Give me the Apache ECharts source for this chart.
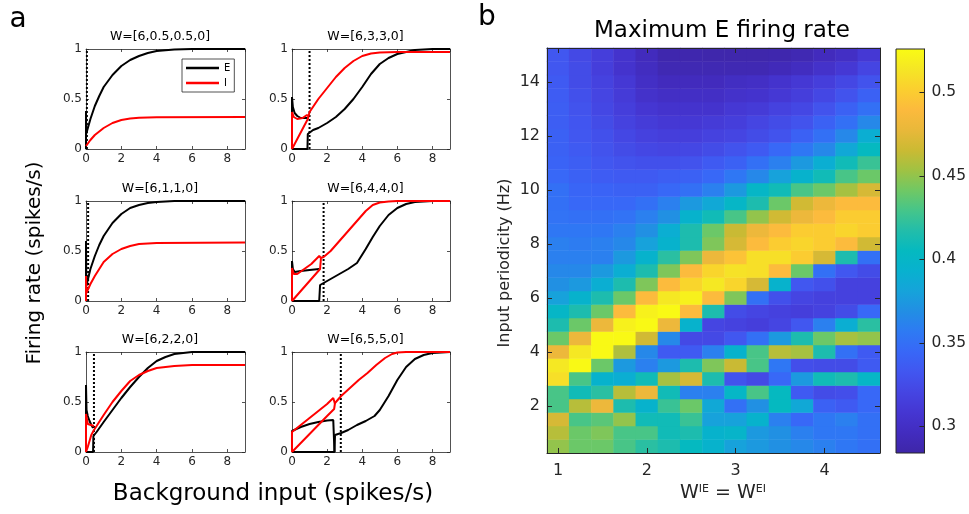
<!DOCTYPE html>
<html><head><meta charset="utf-8">
<script src="https://cdn.jsdelivr.net/npm/echarts/dist/echarts.min.js"></script>
<style>html,body{margin:0;padding:0;background:#fff}#c{width:969px;height:514px}</style>
</head><body><div id="c"></div>
<script>
// ---------- Panel a data ----------
const titlesA = ['W=[6,0.5,0.5,0]','W=[6,3,3,0]','W=[6,1,1,0]','W=[6,4,4,0]','W=[6,2,2,0]','W=[6,5,5,0]'];
const dotX = [0.05, 1.0, 0.12, 1.8, 0.45, 2.78];

const w05_E = [[0,0],[0,0.38],[0.01,0.15],[0.25,0.3],[0.5,0.43],[0.75,0.53],[1,0.62],[1.5,0.74],[2,0.83],[2.5,0.89],[3,0.93],[3.5,0.96],[4,0.98],[5,0.995],[6,1],[9,1]];
const w05_I = [[0,0.03],[0.25,0.09],[0.5,0.14],[1,0.21],[1.5,0.26],[2,0.29],[2.5,0.305],[3,0.313],[4,0.318],[9,0.32]];

const w1_E = [[0,0],[0,0.6],[0.02,0.15],[0.25,0.32],[0.5,0.45],[0.75,0.56],[1,0.65],[1.5,0.78],[2,0.87],[2.5,0.93],[3,0.96],[3.5,0.98],[4,0.99],[5,1],[9,1]];
const w1_I = [[0,0],[0,0.25],[0.02,0.08],[0.25,0.17],[0.5,0.25],[1,0.39],[1.5,0.47],[2,0.52],[2.5,0.55],[3,0.57],[4,0.58],[9,0.585]];

const w2_Eup = [[0,0],[0,0.67],[0.03,0.42],[0.1,0.36],[0.2,0.31],[0.3,0.27],[0.4,0.24]];
const w2_E = [[0,0],[0.4,0],[0.42,0.16],[0.6,0.2],[1,0.3],[1.5,0.42],[2,0.54],[2.5,0.65],[3,0.75],[3.5,0.84],[4,0.91],[4.5,0.95],[5,0.98],[6,1],[9,1]];
const w2_Iup = [[0,0],[0,0.38],[0.05,0.33],[0.1,0.28],[0.2,0.26],[0.45,0.26]];
const w2_I = [[0,0],[0.1,0.05],[0.2,0.11],[0.3,0.17],[0.45,0.22],[0.6,0.26],[1,0.37],[1.5,0.5],[2,0.61],[2.5,0.71],[3,0.77],[3.5,0.81],[4,0.84],[5,0.86],[6,0.87],[9,0.87]];

const w3_Eup = [[0,0],[0,0.52],[0.05,0.42],[0.15,0.36],[0.3,0.33],[0.5,0.31],[0.9,0.31]];
const w3_E = [[0,0],[0.88,0],[0.9,0.15],[1.2,0.19],[1.5,0.21],[2,0.26],[2.5,0.32],[3,0.4],[3.5,0.5],[4,0.62],[4.5,0.75],[5,0.85],[5.5,0.91],[6,0.95],[6.5,0.97],[7,0.99],[8,1],[9,1]];
const w3_Iup = [[0,0],[0,0.37],[0.1,0.32],[0.3,0.3],[0.6,0.31],[0.85,0.34],[0.92,0.33]];
const w3_I = [[0,0],[0.3,0.1],[0.6,0.2],[0.9,0.3],[1,0.37],[1.5,0.5],[2,0.61],[2.5,0.72],[3,0.81],[3.5,0.88],[4,0.93],[4.5,0.955],[5,0.965],[6,0.97],[9,0.97]];

const w4_Eup = [[0,0],[0,0.4],[0.05,0.32],[0.15,0.29],[0.5,0.3],[1,0.31],[1.55,0.32]];
const w4_E = [[0,0],[1.55,0],[1.6,0.16],[1.8,0.18],[2.2,0.22],[2.7,0.27],[3.2,0.32],[3.7,0.38],[4.2,0.52],[4.6,0.64],[5,0.75],[5.5,0.86],[6,0.93],[6.5,0.97],[7,0.99],[8,1],[9,1]];
const w4_Iup = [[0,0],[0,0.33],[0.1,0.27],[0.3,0.27],[0.7,0.32],[1.1,0.37],[1.55,0.45],[1.65,0.43]];
const w4_I = [[0,0],[0.4,0.08],[0.8,0.16],[1.2,0.24],[1.6,0.32],[1.65,0.43],[1.8,0.44],[2.2,0.5],[2.7,0.6],[3.2,0.7],[3.7,0.8],[4.2,0.9],[4.6,0.96],[5,0.985],[5.5,0.995],[6,1],[9,1]];

const w5_Eup = [[0,0],[0,0.21],[0.5,0.25],[1,0.28],[1.5,0.3],[2,0.315],[2.35,0.32],[2.4,0.3],[2.42,0]];
const w5_E = [[0,0],[2.42,0],[2.45,0.17],[2.8,0.19],[3.2,0.22],[3.7,0.27],[4.2,0.31],[4.7,0.36],[5,0.42],[5.5,0.56],[6,0.72],[6.5,0.85],[7,0.93],[7.5,0.97],[8,0.99],[9,1]];
const w5_Iup = [[0,0],[0,0.2],[0.5,0.27],[1,0.34],[1.5,0.41],[2,0.48],[2.35,0.54],[2.42,0.52],[2.45,0.48]];
const w5_I = [[0,0],[1,0.18],[2,0.36],[2.4,0.43],[2.45,0.49],[2.8,0.56],[3.3,0.64],[3.8,0.72],[4.3,0.79],[4.8,0.87],[5.3,0.94],[5.7,0.98],[6,0.995],[6.5,1],[9,1]];

// ---------- Panel b data ----------
const wCats = ['1','1.25','1.5','1.75','2','2.25','2.5','2.75','3','3.25','3.5','3.75','4','4.25','4.5'];
const hzCats = ['0.5','1','1.5','2','2.5','3','3.5','4','4.5','5','5.5','6','6.5','7','7.5','8','8.5','9','9.5','10','10.5','11','11.5','12','12.5','13','13.5','14','14.5','15'];
// rows from 0.5 Hz (first) to 15 Hz (last); columns follow wCats
const maxERate = [
 [0.45,0.44,0.44,0.43,0.42,0.415,0.405,0.395,0.38,0.375,0.37,0.365,0.36,0.355,0.35],
 [0.46,0.44,0.445,0.43,0.43,0.41,0.415,0.395,0.398,0.375,0.37,0.36,0.355,0.355,0.35],
 [0.47,0.43,0.435,0.45,0.41,0.41,0.425,0.38,0.38,0.395,0.36,0.345,0.355,0.36,0.35],
 [0.43,0.46,0.48,0.415,0.395,0.425,0.44,0.385,0.35,0.37,0.405,0.385,0.34,0.335,0.345],
 [0.43,0.41,0.42,0.46,0.48,0.41,0.36,0.36,0.40,0.43,0.405,0.335,0.325,0.327,0.345],
 [0.51,0.43,0.395,0.39,0.41,0.455,0.47,0.415,0.33,0.323,0.345,0.375,0.41,0.415,0.40],
 [0.515,0.525,0.44,0.375,0.36,0.375,0.415,0.445,0.465,0.43,0.355,0.327,0.325,0.325,0.335],
 [0.48,0.515,0.525,0.458,0.365,0.335,0.335,0.36,0.395,0.43,0.46,0.455,0.415,0.35,0.335],
 [0.44,0.48,0.525,0.525,0.468,0.365,0.323,0.323,0.333,0.35,0.375,0.415,0.44,0.455,0.45],
 [0.415,0.44,0.48,0.52,0.525,0.48,0.395,0.32,0.318,0.315,0.32,0.333,0.36,0.39,0.42],
 [0.40,0.415,0.44,0.49,0.52,0.525,0.49,0.415,0.325,0.32,0.317,0.315,0.318,0.325,0.345],
 [0.38,0.395,0.415,0.44,0.49,0.515,0.52,0.49,0.445,0.35,0.328,0.32,0.317,0.317,0.317],
 [0.37,0.375,0.39,0.415,0.445,0.49,0.505,0.515,0.505,0.47,0.395,0.333,0.328,0.317,0.317],
 [0.365,0.365,0.375,0.39,0.415,0.445,0.49,0.505,0.512,0.51,0.49,0.44,0.35,0.333,0.325],
 [0.36,0.36,0.36,0.375,0.395,0.42,0.445,0.48,0.495,0.51,0.51,0.50,0.47,0.415,0.35],
 [0.36,0.358,0.36,0.365,0.38,0.395,0.415,0.445,0.47,0.49,0.50,0.505,0.50,0.49,0.468],
 [0.355,0.355,0.355,0.36,0.37,0.39,0.415,0.44,0.465,0.48,0.49,0.50,0.50,0.505,0.50],
 [0.352,0.35,0.35,0.352,0.36,0.37,0.395,0.41,0.43,0.45,0.468,0.48,0.49,0.50,0.50],
 [0.35,0.345,0.345,0.345,0.35,0.36,0.375,0.385,0.40,0.415,0.44,0.468,0.48,0.49,0.49],
 [0.35,0.343,0.342,0.34,0.34,0.345,0.35,0.36,0.375,0.40,0.41,0.43,0.44,0.455,0.47],
 [0.345,0.34,0.337,0.335,0.335,0.338,0.34,0.345,0.355,0.365,0.38,0.395,0.41,0.43,0.44],
 [0.342,0.338,0.333,0.33,0.328,0.328,0.33,0.335,0.34,0.35,0.36,0.375,0.39,0.41,0.425],
 [0.34,0.335,0.33,0.325,0.322,0.32,0.322,0.325,0.33,0.335,0.345,0.355,0.365,0.385,0.405],
 [0.34,0.333,0.328,0.322,0.317,0.315,0.315,0.318,0.32,0.325,0.33,0.34,0.35,0.365,0.39],
 [0.338,0.332,0.325,0.318,0.313,0.31,0.31,0.312,0.315,0.32,0.325,0.33,0.34,0.35,0.365],
 [0.338,0.33,0.322,0.315,0.308,0.305,0.305,0.305,0.31,0.312,0.318,0.322,0.33,0.34,0.35],
 [0.337,0.328,0.32,0.312,0.303,0.30,0.30,0.30,0.303,0.305,0.31,0.315,0.322,0.33,0.34],
 [0.335,0.325,0.318,0.31,0.30,0.295,0.295,0.295,0.298,0.30,0.305,0.31,0.315,0.322,0.33],
 [0.333,0.325,0.315,0.305,0.297,0.29,0.29,0.29,0.29,0.29,0.293,0.297,0.303,0.31,0.32],
 [0.333,0.323,0.315,0.305,0.295,0.287,0.287,0.286,0.286,0.286,0.287,0.29,0.295,0.30,0.31]
];
const cbMin = 0.284, cbMax = 0.526;
const parula = ['#3e26a8','#422cbf','#4536d2','#4545e2','#4156f0','#3867f7','#2e7af3','#228ee4','#16a3da','#08b1cf','#05b9c0','#22bdaa','#45c58a','#70c864','#a0c243','#cbba33','#e9b83a','#fcba3d','#fbcf2f','#f5e625','#f9fb14'];

// ---------- build ----------
const panelCurves = [
  {E:[w05_E], I:[w05_I]},
  {E:[w3_Eup, w3_E], I:[w3_Iup, w3_I]},
  {E:[w1_E], I:[w1_I]},
  {E:[w4_Eup, w4_E], I:[w4_Iup, w4_I]},
  {E:[w2_Eup, w2_E], I:[w2_Iup, w2_I]},
  {E:[w5_Eup, w5_E], I:[w5_Iup, w5_I]}
];
const colLeft = [86, 292], colW = [159, 158], rowTop = [49, 201, 352], rowH = 100;
const AX = '#262626';
const FONT = 'DejaVu Sans';

const grids = [], xAxes = [], yAxes = [], series = [], graphics = [];
panelCurves.forEach((p, i) => {
  const r = Math.floor(i / 2), c = i % 2;
  grids.push({left: colLeft[c], top: rowTop[r], width: colW[c], height: rowH});
  const tick = {show: true, inside: true, length: 3, lineStyle: {color: AX, width: 0.8}};
  const line = {show: true, onZero: false, lineStyle: {color: AX, width: 0.8}};
  xAxes.push({gridIndex: i, type: 'value', min: 0, max: 9, interval: 2, position: 'bottom', axisLine: line, axisTick: tick,
    splitLine: {show: false}, axisLabel: {fontSize: 12, color: AX, margin: 4, fontFamily: FONT, showMaxLabel: false}});
  xAxes.push({gridIndex: i, type: 'value', min: 0, max: 9, interval: 2, position: 'top', axisLine: line, axisTick: tick,
    splitLine: {show: false}, axisLabel: {show: false}});
  yAxes.push({gridIndex: i, type: 'value', min: 0, max: 1, interval: 0.5, position: 'left', axisLine: line, axisTick: tick,
    splitLine: {show: false}, axisLabel: {fontSize: 12, color: AX, margin: 4, fontFamily: FONT}});
  yAxes.push({gridIndex: i, type: 'value', min: 0, max: 1, interval: 0.5, position: 'right', axisLine: line, axisTick: tick,
    splitLine: {show: false}, axisLabel: {show: false}});
  const base = {type: 'line', xAxisIndex: 2 * i, yAxisIndex: 2 * i, showSymbol: false, symbol: 'none', animation: false, silent: true, clip: true, z: 3};
  series.push(Object.assign({}, base, {name: 'dot' + i, data: [[dotX[i], 0], [dotX[i], 1]], lineStyle: {color: '#000', width: 2, type: [2, 2]}, z: 2}));
  p.E.forEach(d => series.push(Object.assign({}, base, {name: 'E', data: d, lineStyle: {color: '#000000', width: 2}, itemStyle: {color: '#000'}})));
  p.I.forEach(d => series.push(Object.assign({}, base, {name: 'I', data: d, lineStyle: {color: '#ff0000', width: 2}, itemStyle: {color: '#ff0000'}})));
  graphics.push({type: 'text', x: colLeft[c] + colW[c] / 2 - 5.5, y: rowTop[r] - 12,
    style: {text: titlesA[i], font: '12.5px "DejaVu Sans"', fill: '#000', textAlign: 'center', textVerticalAlign: 'middle'}});
});

// heatmap grid (index 6)
grids.push({left: 547, top: 48, width: 333, height: 405});
const hmLine = {show: true, onZero: false, lineStyle: {color: AX, width: 1}};
const xInt = (idx, v) => Number(v) % 1 === 0;
const yInt = (idx, v) => Number(v) % 2 === 0;
const hmTick = (fn) => ({show: true, inside: true, length: 5, alignWithLabel: true, interval: fn, lineStyle: {color: AX, width: 1}});
xAxes.push({gridIndex: 6, type: 'category', data: wCats, position: 'bottom', z: 10, axisLine: hmLine, axisTick: hmTick(xInt),
  axisLabel: {interval: xInt, fontSize: 16, color: AX, margin: 10, fontFamily: FONT}, splitLine: {show: false}});
xAxes.push({gridIndex: 6, type: 'category', data: wCats, position: 'top', z: 10, axisLine: hmLine, axisTick: hmTick(xInt),
  axisLabel: {show: false}, splitLine: {show: false}});
yAxes.push({gridIndex: 6, type: 'category', data: hzCats, position: 'left', z: 10, axisLine: hmLine, axisTick: hmTick(yInt),
  axisLabel: {interval: yInt, fontSize: 16, color: AX, margin: 7, fontFamily: FONT}, splitLine: {show: false}});
yAxes.push({gridIndex: 6, type: 'category', data: hzCats, position: 'right', z: 10, axisLine: hmLine, axisTick: hmTick(yInt),
  axisLabel: {show: false}, splitLine: {show: false}});
const hmData = [];
maxERate.forEach((row, ri) => row.forEach((v, ci) => hmData.push([ci, ri, v])));
const hmIndex = series.length;
series.push({type: 'heatmap', xAxisIndex: 12, yAxisIndex: 12, data: hmData, animation: false, silent: true,
  itemStyle: {borderWidth: 0}, emphasis: {disabled: true}});

// colorbar grid (index 7)
grids.push({left: 896, top: 49, width: 34, height: 404});
xAxes.push({gridIndex: 7, type: 'value', min: 0, max: 1, show: false});
yAxes.push({gridIndex: 7, type: 'value', min: cbMin, max: cbMax, position: 'right', z: 10,
  axisLine: {show: true, onZero: false, lineStyle: {color: AX, width: 1}},
  axisTick: {show: true, inside: true, length: 5, lineStyle: {color: AX, width: 1}},
  axisLabel: {fontSize: 15.5, color: AX, margin: 7, fontFamily: FONT, showMinLabel: false, showMaxLabel: false},
  splitLine: {show: false}});
// gradient: top of the bar = max value (last parula colour)
const cbStops = parula.map((col, k) => ({offset: 1 - k / (parula.length - 1), color: col})).sort((a, b) => a.offset - b.offset);
series.push({type: 'custom', xAxisIndex: 14, yAxisIndex: 14, data: [[0, 1]], animation: false, silent: true,
  renderItem: (params, api) => {
    const p0 = api.coord([0, cbMax]);
    const p1 = api.coord([1, cbMin]);
    return {type: 'group', children: [
      {type: 'rect', shape: {x: p0[0], y: p0[1], width: p1[0] - p0[0], height: p1[1] - p0[1]},
        style: {fill: new echarts.graphic.LinearGradient(0, 0, 0, 1, cbStops)}},
      {type: 'rect', shape: {x: p0[0], y: p0[1], width: p1[0] - p0[0], height: p1[1] - p0[1]},
        style: {fill: 'none', stroke: AX, lineWidth: 1}}
    ]};
  }});

// text labels
graphics.push(
  {type: 'text', x: 18, y: 20, style: {text: 'a', font: '28px "DejaVu Sans"', fill: '#000', textAlign: 'center', textVerticalAlign: 'middle'}},
  {type: 'text', x: 487, y: 18, style: {text: 'b', font: '28px "DejaVu Sans"', fill: '#000', textAlign: 'center', textVerticalAlign: 'middle'}},
  {type: 'text', x: 35, y: 263, rotation: Math.PI / 2, style: {text: 'Firing rate (spikes/s)', font: '20px "DejaVu Sans"', fill: '#000', textAlign: 'center', textVerticalAlign: 'middle'}},
  {type: 'text', x: 273, y: 494, style: {text: 'Background input (spikes/s)', font: '23px "DejaVu Sans"', fill: '#000', textAlign: 'center', textVerticalAlign: 'middle'}},
  {type: 'text', x: 722, y: 31, style: {text: 'Maximum E firing rate', font: '23px "DejaVu Sans"', fill: '#000', textAlign: 'center', textVerticalAlign: 'middle'}},
  {type: 'text', x: 505, y: 263, rotation: Math.PI / 2, style: {text: 'Input periodicity (Hz)', font: '16px "DejaVu Sans"', fill: '#262626', textAlign: 'center', textVerticalAlign: 'middle'}},
  {type: 'text', x: 723, y: 493, style: {text: 'W{s|IE} = W{s|EI}', font: '19px "DejaVu Sans"', fill: '#262626', textAlign: 'center', textVerticalAlign: 'middle',
    rich: {s: {fontSize: 11, fontFamily: FONT, verticalAlign: 'top', fill: '#262626', padding: [0, 0, 8, 0]}}}}
);

const chart = echarts.init(document.getElementById('c'), null, {renderer: 'canvas'});
chart.setOption({
  animation: false,
  backgroundColor: '#fff',
  textStyle: {fontFamily: FONT},
  grid: grids, xAxis: xAxes, yAxis: yAxes, series: series,
  legend: {data: ['E', 'I'], left: 182, top: 59, orient: 'vertical', icon: 'rect', itemWidth: 33, itemHeight: 2.5, itemGap: 3,
    padding: [3, 4, 3, 4], borderColor: AX, borderWidth: 0.8, backgroundColor: '#fff', selectedMode: false,
    textStyle: {fontSize: 10, color: '#000', fontFamily: FONT, lineHeight: 12}},
  visualMap: {type: 'continuous', show: false, min: cbMin, max: cbMax, dimension: 2, seriesIndex: hmIndex, inRange: {color: parula}},
  graphic: graphics
});
</script></body></html>
